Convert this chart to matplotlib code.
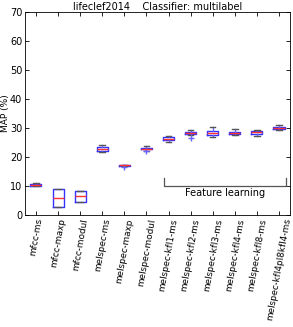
import matplotlib
matplotlib.use("Agg")
import matplotlib.pyplot as plt

categories = ["mfcc-ms", "mfcc-maxp", "mfcc-modul", "melspec-ms", "melspec-maxp",
              "melspec-modul", "melspec-kfl1-ms", "melspec-kfl2-ms", "melspec-kfl3-ms",
              "melspec-kfl4-ms", "melspec-kfl8-ms", "melspec-kfl4pl8kfl4-ms"]
med = [10.3, 5.8, 6.4, 22.8, 17.1, 22.9, 26.3, 28.2, 28.3, 28.3, 28.5, 30.1]
q1 = [10.0, 2.7, 4.6, 22.2, 17.0, 22.6, 25.7, 27.9, 27.6, 27.9, 27.9, 29.8]
q3 = [10.6, 8.9, 8.3, 23.3, 17.2, 23.1, 26.9, 28.6, 28.9, 28.7, 29.0, 30.4]
wlo = [9.8, 2.7, 4.6, 21.6, 17.0, 22.2, 25.0, 27.4, 27.0, 27.4, 27.3, 29.2]
whi = [10.9, 8.9, 8.3, 24.0, 17.2, 23.6, 27.3, 29.2, 30.2, 29.5, 29.4, 30.9]
fliers = [[], [], [], [], [16.6], [21.9], [], [26.6], [], [], [], []]

stats = []
for i in range(len(categories)):
    stats.append(dict(med=med[i], q1=q1[i], q3=q3[i], whislo=wlo[i], whishi=whi[i],
                      fliers=fliers[i], label=categories[i]))

fig = plt.figure(figsize=(2.93, 3.27), dpi=100)
ax = fig.add_axes([0.085, 0.343, 0.905, 0.62])
ax.bxp(stats, widths=0.5,
       boxprops=dict(color="#3333ff", linewidth=1.0),
       medianprops=dict(color="#ff3333", linewidth=1.0),
       whiskerprops=dict(color="#6666ff", linewidth=1.0),
       capprops=dict(color="#555555", linewidth=1.0),
       flierprops=dict(marker="+", markeredgecolor="#6666ff", markersize=4))
ax.set_xlim(0.5, 12.5)
ax.set_ylim(0, 70)
ax.set_yticks(range(0, 71, 10))
ax.tick_params(direction="in", top=True, right=True, labelsize=7, length=3, width=0.6, pad=2)
ax.set_xticks(range(1, 13))
ax.set_xticklabels(categories, rotation=80, fontsize=6.4)
ax.set_ylabel("MAP (%)", fontsize=6.5, labelpad=0)
ax.set_title("lifeclef2014    Classifier: multilabel", fontsize=7, pad=1.5)
for s in ax.spines.values():
    s.set_linewidth(0.6)

# Feature learning bracket
ax.plot([6.8, 6.8, 12.3, 12.3], [12.8, 10, 10, 12.8], color="#555555", lw=0.9)
ax.text(9.55, 7.5, "Feature learning", ha="center", va="center", fontsize=7)

fig.savefig("out.png", dpi=100)
